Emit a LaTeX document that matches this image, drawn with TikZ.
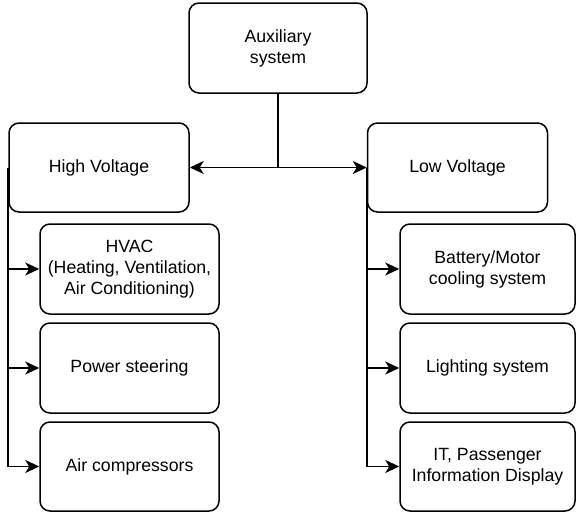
\documentclass[tikz,border=0pt]{standalone}
\usepackage{fontspec}
\setmainfont{Liberation Sans}
\usetikzlibrary{arrows.meta}
\begin{document}
\begin{tikzpicture}[x=1pt,y=1pt,
  box/.style={draw, rounded corners=10pt, line width=1.5pt, align=center,
    font=\fontsize{17.7}{21}\selectfont, inner sep=0pt},
  conn/.style={line width=1.6pt, -{Stealth[length=14pt,width=13pt,inset=4pt]}}]
\useasboundingbox (0,-512) rectangle (576,0);
\node[box, minimum width=178pt, minimum height=90pt] (top) at (278,-48) {Auxiliary\\system};
\node[box, minimum width=180pt, minimum height=89pt] (hv) at (99,-167.5) {High Voltage};
\node[box, minimum width=180pt, minimum height=89pt] (lv) at (457.5,-167.5) {Low Voltage};
\node[box, minimum width=179pt, minimum height=90pt] (l1) at (129.5,-269) {HVAC\\(Heating, Ventilation,\\Air Conditioning)};
\node[box, minimum width=179pt, minimum height=90pt] (l2) at (129.5,-368) {Power steering};
\node[box, minimum width=179pt, minimum height=89pt] (l3) at (129.5,-466.5) {Air compressors};
\node[box, minimum width=175pt, minimum height=90pt] (r1) at (487.5,-269) {Battery/Motor\\cooling system};
\node[box, minimum width=175pt, minimum height=90pt] (r2) at (487.5,-368) {Lighting system};
\node[box, minimum width=175pt, minimum height=89pt] (r3) at (487.5,-466.5) {IT, Passenger\\Information Display};
\coordinate (j) at (top.south |- hv.east);
\draw[line width=1.6pt] (top.south) -- (j);
\draw[conn] (j) -- (hv.east);
\draw[conn] (j) -- (lv.west);
\draw[conn] (hv.west) |- (l1.west);
\draw[conn] (hv.west) |- (l2.west);
\draw[conn] (hv.west) |- (l3.west);
\draw[conn] (lv.west) |- (r1.west);
\draw[conn] (lv.west) |- (r2.west);
\draw[conn] (lv.west) |- (r3.west);
\end{tikzpicture}
\end{document}
